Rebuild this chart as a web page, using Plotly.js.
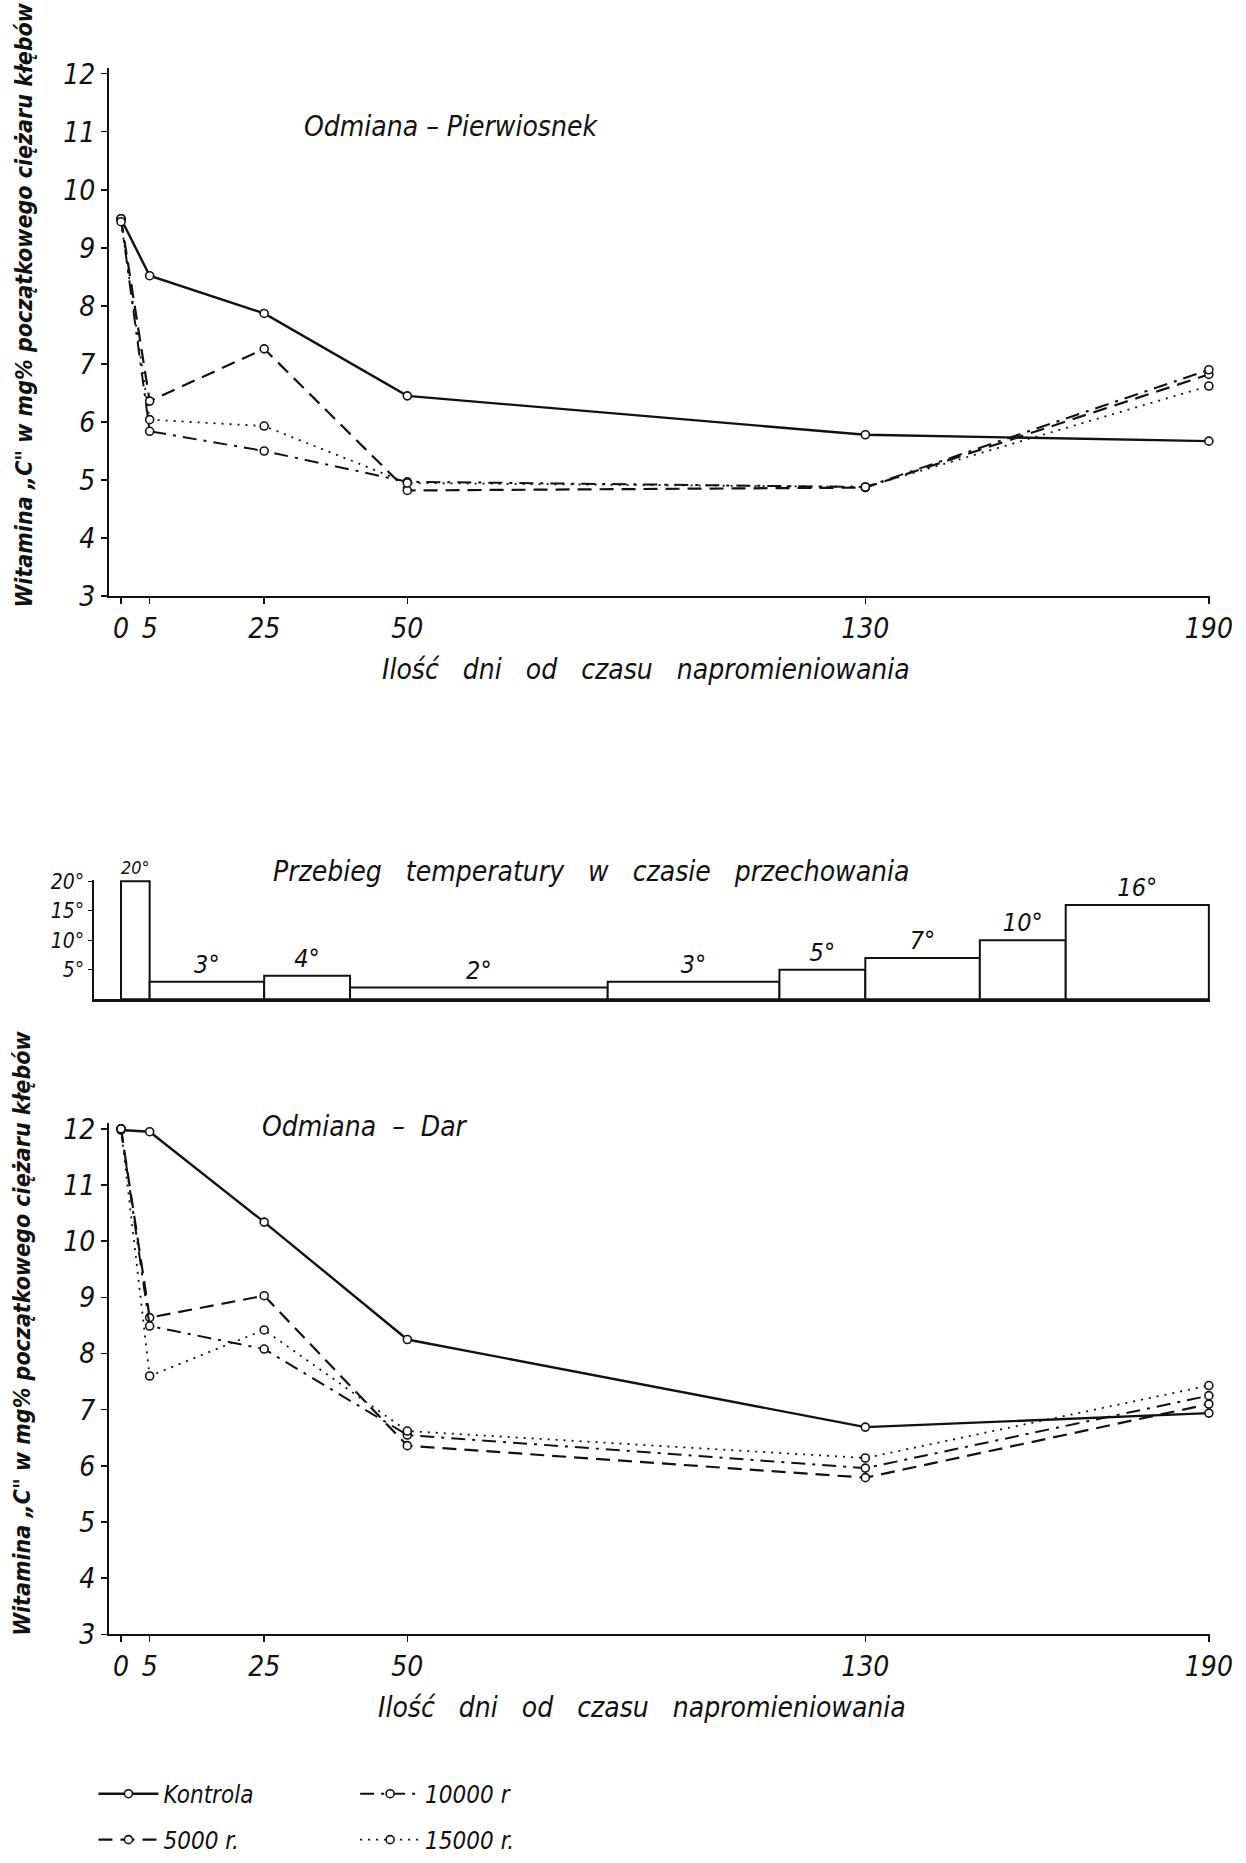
<!DOCTYPE html>
<html>
<head>
<meta charset="utf-8">
<script src="https://cdn.plot.ly/plotly-3.0.1.min.js"></script>
<style>html,body{margin:0;padding:0;background:#fff;}#chart{width:1246px;height:1863px;}</style>
</head>
<body>
<div id="chart"></div>
<script>
// ---- data ----
const days = [0, 5, 25, 50, 130, 190];
const dayTickLabels = ['0', '5', '25', '50', '130', '190'];
const seriesNames = ['Kontrola', '5000 r.', '10000 r', '15000 r.'];

// Odmiana – Pierwiosnek
const pKontrola = [9.5, 8.52, 7.87, 6.45, 5.78, 5.67];
const p5000 = [9.5, 6.36, 7.26, 4.82, 4.87, 6.82];
const p10000 = [9.5, 5.84, 5.50, 4.97, 4.88, 6.9];
const p15000 = [9.45, 6.04, 5.93, 4.95, 4.88, 6.62];

// Odmiana – Dar
const dKontrola = [11.98, 11.95, 10.34, 8.25, 6.69, 6.94];
const d5000 = [12, 8.64, 9.03, 6.36, 5.79, 7.1];
const d10000 = [12, 8.49, 8.08, 6.55, 5.96, 7.25];
const d15000 = [12, 7.6, 8.42, 6.62, 6.14, 7.43];

// Przebieg temperatury w czasie przechowania
const tempStart = [0, 5, 25, 40, 85, 115, 130, 150, 165];
const tempEnd = [5, 25, 40, 85, 115, 130, 150, 165, 190];
const temps = [20, 3, 4, 2, 3, 5, 7, 10, 16];
const tempTicks = [5, 10, 15, 20];

// ---- styling ----
const FONT = '"Liberation Sans Narrow", "DejaVu Sans Condensed", "Liberation Sans", sans-serif';
const dashes = ['solid', '14px,8px', '14px,7px,3px,7px', '2px,6px'];
const widths = [2.4, 2.2, 2.0, 1.8];

function seriesTrace(x, y, idx, xa, ya, legendName, show) {
  return {
    type: 'scatter', mode: 'lines+markers',
    x: x, y: y, name: seriesNames[idx],
    xaxis: xa, yaxis: ya,
    line: {color: '#111', width: widths[idx], dash: dashes[idx]},
    marker: {symbol: 'circle', size: 8, color: '#fff', line: {color: '#111', width: 1.6}},
    showlegend: show, legend: legendName, cliponaxis: false
  };
}

const legendIds = ['legend', 'legend2', 'legend3', 'legend4'];
const pSeries = [pKontrola, p5000, p10000, p15000];
const dSeries = [dKontrola, d5000, d10000, d15000];
const traces = [];
pSeries.forEach((s, i) => traces.push(seriesTrace(days, s, i, 'x', 'y', legendIds[i], false)));
dSeries.forEach((s, i) => traces.push(seriesTrace(days, s, i, 'x3', 'y3', legendIds[i], true)));

traces.push({
  type: 'bar', xaxis: 'x2', yaxis: 'y2',
  x: tempStart.map((s, i) => (s + tempEnd[i]) / 2),
  width: tempStart.map((s, i) => tempEnd[i] - s),
  y: temps,
  text: temps.map(t => t + '°'),
  textposition: 'outside',
  textfont: {family: FONT, size: 25, style: 'italic', color: '#111'},
  marker: {color: '#fff', line: {color: '#111', width: 2}},
  showlegend: false, cliponaxis: false, hoverinfo: 'skip'
});

const tickFont = {family: FONT, size: 28, style: 'italic', color: '#111'};
const mainX = {
  domain: [0.08748, 0.97111], range: [-2.1, 190.2],
  tickmode: 'array', tickvals: days, ticktext: dayTickLabels,
  showline: true, linecolor: '#111', linewidth: 2,
  ticks: 'outside', ticklen: 6, tickcolor: '#111', tickwidth: 1.5,
  showgrid: false, zeroline: false, tickfont: tickFont
};
const mainY = {
  range: [3, 12.1], tickmode: 'linear', tick0: 3, dtick: 1,
  showline: true, linecolor: '#111', linewidth: 2,
  ticks: 'outside', ticklen: 6, tickcolor: '#111', tickwidth: 1.5,
  showgrid: false, zeroline: false, tickfont: tickFont
};

const legendBase = {
  orientation: 'v', xanchor: 'left', yanchor: 'middle',
  font: {family: FONT, size: 24, style: 'italic', color: '#111'},
  bgcolor: 'rgba(0,0,0,0)', itemwidth: 60
};

const yTitle = 'Witamina „C" w mg% początkowego ciężaru kłębów';
const sp = '&nbsp;&nbsp;&nbsp;';
const xTitle = ['Ilość', 'dni', 'od', 'czasu', 'napromieniowania'].join(sp);

function ann(text, x, y, size, extra) {
  return Object.assign({
    text: text, xref: 'paper', yref: 'paper',
    x: x / 1246, y: 1 - y / 1863, xanchor: 'center', yanchor: 'middle',
    showarrow: false, font: {family: FONT, size: size, style: 'italic', color: '#111'}
  }, extra || {});
}
const boldTitleFont = {family: FONT, size: 23, style: 'italic', weight: 'bold', color: '#111'};

const layout = {
  width: 1246, height: 1863,
  margin: {l: 0, r: 0, t: 0, b: 0},
  paper_bgcolor: '#fff', plot_bgcolor: '#fff',
  xaxis: Object.assign({}, mainX, {anchor: 'y'}),
  yaxis: Object.assign({}, mainY, {domain: [0.6795, 0.9635], anchor: 'x'}),
  xaxis2: {
    domain: [0.07544, 0.97111], range: [-4.72, 190.2], anchor: 'y2',
    showline: true, linecolor: '#111', linewidth: 2.5,
    showticklabels: false, ticks: '', showgrid: false, zeroline: false
  },
  yaxis2: {
    domain: [0.4627, 0.5271], range: [0, 20.3], anchor: 'x2',
    tickmode: 'array', tickvals: tempTicks, ticktext: tempTicks.map(t => t + '°'),
    showline: true, linecolor: '#111', linewidth: 1.5,
    ticks: 'outside', ticklen: 4, tickcolor: '#111',
    showgrid: false, zeroline: false,
    tickfont: {family: FONT, size: 21, style: 'italic', color: '#111'}
  },
  xaxis3: Object.assign({}, mainX, {anchor: 'y3'}),
  yaxis3: Object.assign({}, mainY, {domain: [0.1213, 0.3961], anchor: 'x3'}),
  bargap: 0,
  legend: Object.assign({}, legendBase, {x: 0.075, y: 1 - 1797 / 1863}),
  legend2: Object.assign({}, legendBase, {x: 0.075, y: 1 - 1843 / 1863}),
  legend3: Object.assign({}, legendBase, {x: 0.285, y: 1 - 1797 / 1863}),
  legend4: Object.assign({}, legendBase, {x: 0.285, y: 1 - 1843 / 1863}),
  annotations: [
    ann('Odmiana – Pierwiosnek', 451, 127, 28),
    ann(xTitle, 646, 671, 28),
    ann(yTitle, 24, 306, 23, {textangle: -90, font: boldTitleFont}),
    ann(['Przebieg', 'temperatury', 'w', 'czasie', 'przechowania'].join(sp), 591, 873, 28),
    ann('Odmiana&nbsp;&nbsp;–&nbsp;&nbsp;Dar', 365, 1128, 28),
    ann(xTitle, 642, 1710, 28),
    ann(yTitle, 22, 1336, 23, {textangle: -90, font: boldTitleFont})
  ]
};

Plotly.newPlot('chart', traces, layout, {displayModeBar: false, staticPlot: true});
</script>
</body>
</html>
